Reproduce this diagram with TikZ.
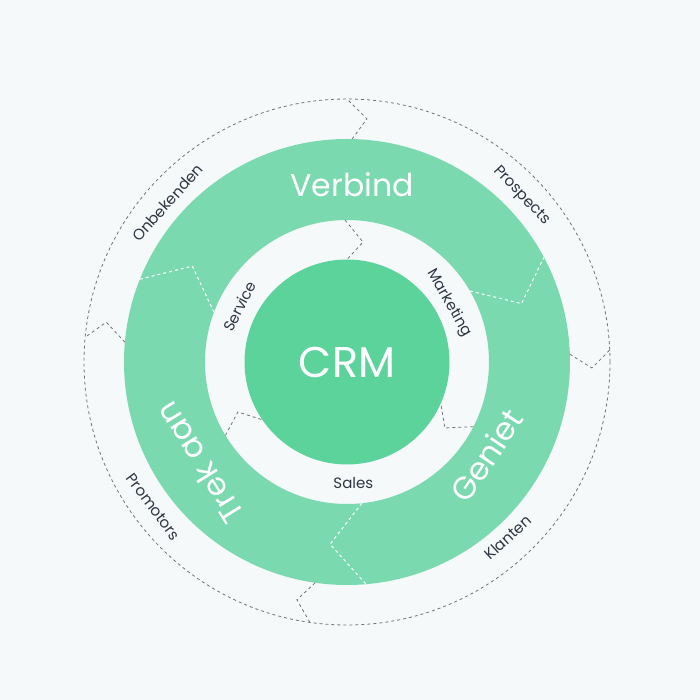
\documentclass[tikz,border=0pt]{standalone}
\usepackage{fontspec}
\setmainfont{Poppins}
\begin{document}
\begin{tikzpicture}[x=1pt,y=1pt,
  lbl/.style={inner sep=0pt,text=txt},
  big/.style={inner sep=0pt,text=white,font=\fontsize{31.5}{31.5}\selectfont},
  outerlbl/.style={lbl,font=\fontsize{15.2}{15.2}\selectfont},
  innerlbl/.style={lbl,font=\fontsize{15}{15}\selectfont},
  gdash/.style={draw=dgray,line width=0.8pt,dash pattern=on 3pt off 3pt},
  wdash/.style={draw=white,line width=1pt,dash pattern=on 3pt off 3pt}]
\definecolor{bg}{HTML}{F5F9FA}
\definecolor{ring}{HTML}{7AD9AF}
\definecolor{core}{HTML}{5CD39B}
\definecolor{txt}{HTML}{2F3542}
\definecolor{dgray}{HTML}{707478}
\fill[bg] (-347,-338) rectangle (353,362);
\useasboundingbox (-347,-338) rectangle (353,362);
% outer dashed circle
\draw[gdash] (0,0) circle (263);
% ring
\fill[ring,even odd rule] (0,0) circle (223) (0,0) circle (142);
% core
\fill[core] (0,0) circle (102.5);
% white chevrons in ring
\draw[wdash] (30:142) -- (18.5:184) -- (28:223);
\draw[wdash] (-84:142) -- (-95.3:183) -- (-85.1:223);
\draw[wdash] (159.5:142) -- (148.2:182) -- (158.2:223);
% outer gray chevrons
\draw[gdash] (88.7:223) -- (85.3:244) -- (90:263);
\draw[gdash] (2:223) -- (-1.4:245) -- (2.6:263);
\draw[gdash] (-98.2:223) -- (-101.9:243) -- (-98.1:263);
\draw[gdash] (174.9:223) -- (170.6:244) -- (174.6:263);
% inner gray chevrons
\draw[gdash] (90.8:142) -- (82.4:121) -- (90:102.5);
\draw[gdash] (-27.1:142) -- (-34:118) -- (-23.8:102.5);
\draw[gdash] (211.1:142) -- (204.6:120) -- (214.3:102.5);
% texts
\node[inner sep=0pt,text=white,font=\fontsize{43}{43}\selectfont] (crm) at (0,0) {CRM};
\node[big] (verbind) at (5,177) {Verbind};
\node[big,rotate=56.4] (geniet) at (-33.8:168) {Geniet};
\node[big,rotate=122] (trek) at (214.5:179) {Trek aan};
\node[outerlbl,rotate=48.4] (onb) at (138.4:240) {Onbekenden};
\node[outerlbl,rotate=-46.5] (pros) at (43.5:241) {Prospects};
\node[outerlbl,rotate=42.5] (klan) at (-47.5:238) {Klanten};
\node[outerlbl,rotate=-53.2] (prom) at (216.8:242) {Promotors};
\node[innerlbl,rotate=62.6] (serv) at (152.6:121) {Service};
\node[innerlbl,rotate=-60] (mark) at (30:118) {Marketing};
\node[innerlbl] (sales) at (-87:121) {Sales};
\end{tikzpicture}
\end{document}
